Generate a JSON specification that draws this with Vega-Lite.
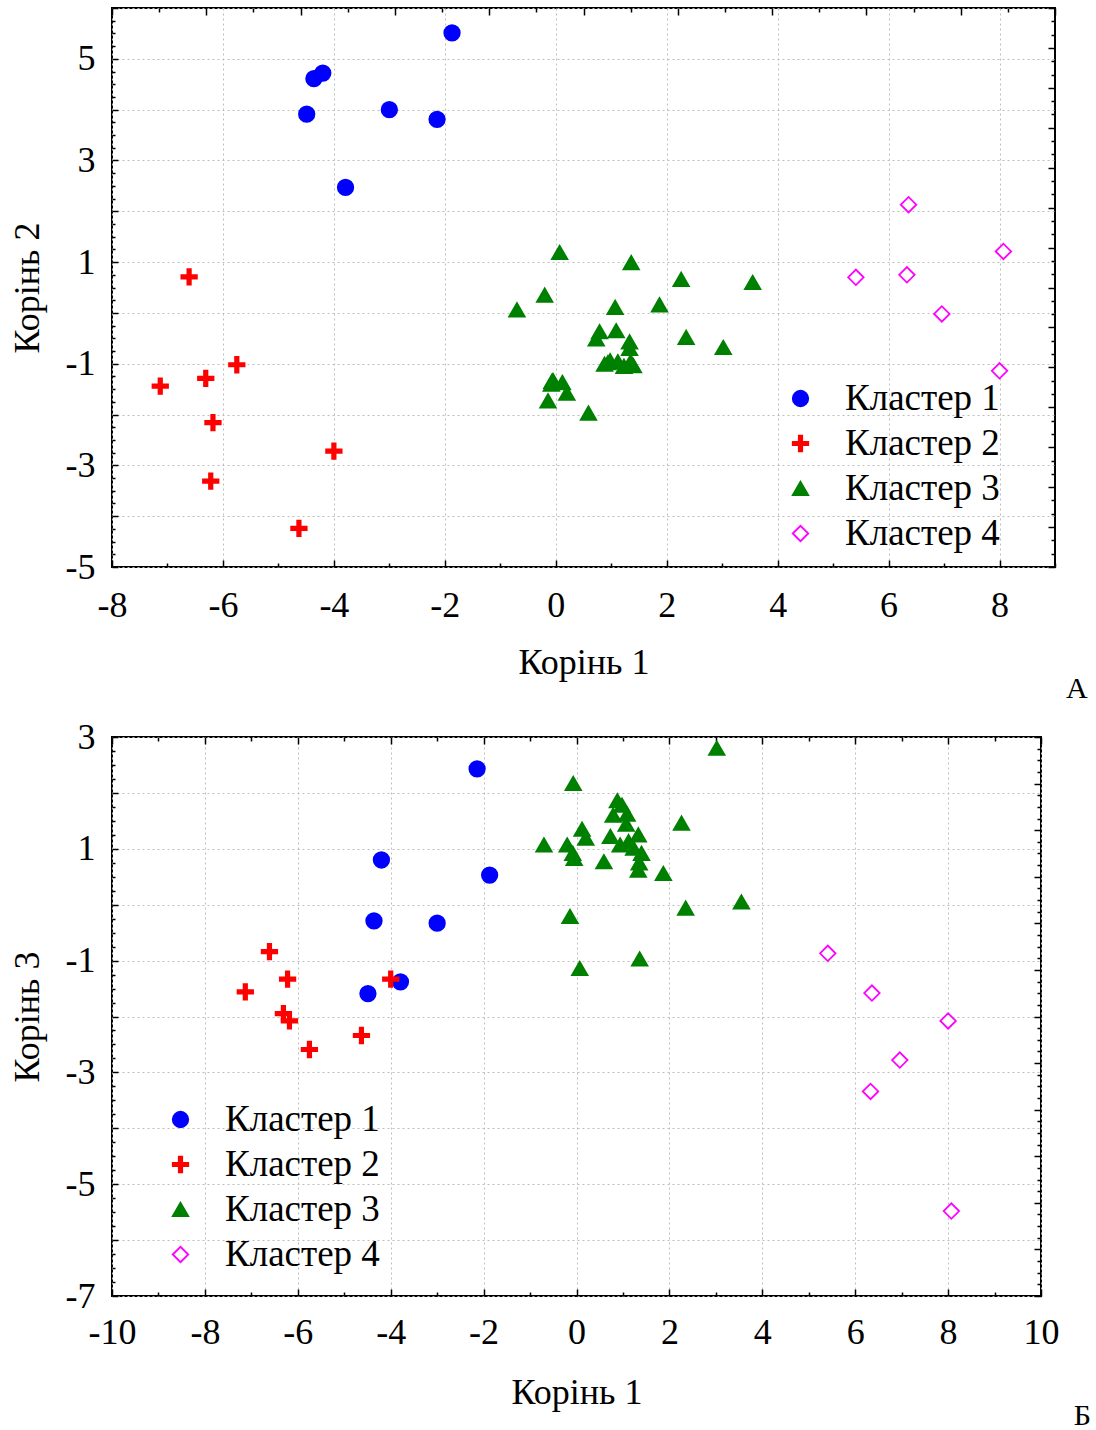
{
  "$schema": "https://vega.github.io/schema/vega-lite/v6.json",
  "padding": {"left": 8, "top": 6, "right": 0, "bottom": 0},
  "background": "white",
  "bounds": "flush",
  "spacing": 170,
  "datasets": {
    "pts": [
      {"cluster": "Кластер 1", "r1": -1.87, "r2": 5.51, "r3": 0.53},
      {"cluster": "Кластер 1", "r1": -2.14, "r2": 3.81, "r3": 2.43},
      {"cluster": "Кластер 1", "r1": -3.0, "r2": 4.0, "r3": -0.33},
      {"cluster": "Кластер 1", "r1": -3.79, "r2": 2.47, "r3": -1.38},
      {"cluster": "Кластер 1", "r1": -4.2, "r2": 4.72, "r3": 0.8},
      {"cluster": "Кластер 1", "r1": -4.36, "r2": 4.61, "r3": -0.29},
      {"cluster": "Кластер 1", "r1": -4.49, "r2": 3.91, "r3": -1.59},
      {"cluster": "Кластер 2", "r1": -6.61, "r2": 0.71, "r3": -0.84},
      {"cluster": "Кластер 2", "r1": -7.13, "r2": -1.44, "r3": -1.56},
      {"cluster": "Кластер 2", "r1": -6.31, "r2": -1.29, "r3": -1.95},
      {"cluster": "Кластер 2", "r1": -5.75, "r2": -1.02, "r3": -2.59},
      {"cluster": "Кластер 2", "r1": -6.18, "r2": -2.16, "r3": -2.08},
      {"cluster": "Кластер 2", "r1": -6.22, "r2": -3.31, "r3": -1.33},
      {"cluster": "Кластер 2", "r1": -4.0, "r2": -2.72, "r3": -1.33},
      {"cluster": "Кластер 2", "r1": -4.63, "r2": -4.24, "r3": -2.34},
      {"cluster": "Кластер 3", "r1": -0.7, "r2": 0.06, "r3": 1.07},
      {"cluster": "Кластер 3", "r1": -0.2, "r2": 0.35, "r3": 1.07},
      {"cluster": "Кластер 3", "r1": -0.14, "r2": -1.73, "r3": -0.21},
      {"cluster": "Кластер 3", "r1": -0.07, "r2": -1.35, "r3": 2.17},
      {"cluster": "Кластер 3", "r1": -0.08, "r2": -1.4, "r3": 0.92},
      {"cluster": "Кластер 3", "r1": -0.05, "r2": -1.33, "r3": 0.83},
      {"cluster": "Кластер 3", "r1": 0.07, "r2": 1.19, "r3": -1.14},
      {"cluster": "Кластер 3", "r1": 0.12, "r2": -1.37, "r3": 1.35},
      {"cluster": "Кластер 3", "r1": 0.2, "r2": -1.58, "r3": 1.19},
      {"cluster": "Кластер 3", "r1": 0.59, "r2": -1.97, "r3": 0.77},
      {"cluster": "Кластер 3", "r1": 0.73, "r2": -0.51, "r3": 1.22},
      {"cluster": "Кластер 3", "r1": 0.79, "r2": -0.37, "r3": 1.6},
      {"cluster": "Кластер 3", "r1": 0.88, "r2": -1.01, "r3": 1.86},
      {"cluster": "Кластер 3", "r1": 0.94, "r2": -0.98, "r3": 1.07},
      {"cluster": "Кластер 3", "r1": 0.98, "r2": -0.94, "r3": 1.78},
      {"cluster": "Кластер 3", "r1": 1.07, "r2": 0.11, "r3": 1.44},
      {"cluster": "Кластер 3", "r1": 1.09, "r2": -0.35, "r3": 1.62},
      {"cluster": "Кластер 3", "r1": 1.12, "r2": -0.96, "r3": 1.13},
      {"cluster": "Кластер 3", "r1": 1.23, "r2": -1.05, "r3": 1.01},
      {"cluster": "Кластер 3", "r1": 1.33, "r2": -0.57, "r3": 1.25},
      {"cluster": "Кластер 3", "r1": 1.33, "r2": -0.7, "r3": 0.62},
      {"cluster": "Кластер 3", "r1": 1.35, "r2": -0.96, "r3": 0.75},
      {"cluster": "Кластер 3", "r1": 1.36, "r2": 0.99, "r3": -0.97},
      {"cluster": "Кластер 3", "r1": 1.4, "r2": -1.04, "r3": 0.92},
      {"cluster": "Кластер 3", "r1": 1.87, "r2": 0.16, "r3": 0.56},
      {"cluster": "Кластер 3", "r1": 2.26, "r2": 0.66, "r3": 1.46},
      {"cluster": "Кластер 3", "r1": 2.35, "r2": -0.48, "r3": -0.06},
      {"cluster": "Кластер 3", "r1": 3.02, "r2": -0.68, "r3": 2.8},
      {"cluster": "Кластер 3", "r1": 3.55, "r2": 0.6, "r3": 0.05},
      {"cluster": "Кластер 4", "r1": 5.41, "r2": 0.7, "r3": -0.87},
      {"cluster": "Кластер 4", "r1": 6.36, "r2": 2.13, "r3": -1.58},
      {"cluster": "Кластер 4", "r1": 6.33, "r2": 0.75, "r3": -3.34},
      {"cluster": "Кластер 4", "r1": 6.96, "r2": -0.02, "r3": -2.78},
      {"cluster": "Кластер 4", "r1": 8.07, "r2": 1.21, "r3": -5.48},
      {"cluster": "Кластер 4", "r1": 8.0, "r2": -1.14, "r3": -2.08}
    ]
  },
  "config": {
    "font": "Liberation Serif",
    "view": {"stroke": "black", "strokeWidth": 2},
    "axis": {
      "domain": false,
      "labelFont": "Liberation Serif",
      "labelColor": "black",
      "titleFont": "Liberation Serif",
      "titleFontSize": 36,
      "titleFontWeight": "normal",
      "titleColor": "black",
      "tickColor": "black",
      "tickWidth": 1.5,
      "gridColor": "#bdbdbd",
      "gridDash": [2, 3],
      "gridWidth": 1,
      "labelFlush": false,
      "labelOverlap": false
    },
    "legend": {
      "labelFont": "Liberation Serif",
      "labelFontSize": 37,
      "labelColor": "black",
      "symbolStrokeWidth": 1.8,
      "symbolSize": 240,
      "rowPadding": 7,
      "labelOffset": 26,
      "padding": 0
    },
    "title": {"font": "Liberation Serif", "fontSize": 30, "fontWeight": "normal", "color": "black"}
  },
  "resolve": {"legend": {"shape": "independent", "fill": "independent", "stroke": "independent"}},
  "vconcat": [
    {
      "width": 943,
      "height": 559,
      "title": {"text": "А", "orient": "bottom", "anchor": "end", "dx": 32, "offset": -6},
      "data": {"name": "pts"},
      "layer": [
        {
          "mark": {"type": "point", "filled": true, "size": 240, "strokeWidth": 1.8, "opacity": 1},
          "encoding": {
            "x": {
              "field": "r1", "type": "quantitative",
              "scale": {"domain": [-8, 9], "nice": false, "zero": false},
              "axis": {
                "orient": "bottom",
                "title": "Корінь 1",
                "values": [-8, -7, -6, -5, -4, -3, -2, -1, 0, 1, 2, 3, 4, 5, 6, 7, 8, 9],
                "labelExpr": "datum.value % 2 == 0 && datum.value <= 8 ? '' + datum.value : ''",
                "labelFontSize": {"condition": {"test": "datum.value % 2 == 0 && datum.value <= 8", "value": 36}, "value": 0},
                "gridOpacity": {"condition": {"test": "datum.value % 2 == 0", "value": 1}, "value": 0},
                "tickSize": {"condition": {"test": "datum.value % 2 == 0", "value": -7}, "value": -4},
                "labelPadding": 28,
                "titlePadding": 22
              }
            },
            "y": {
              "field": "r2", "type": "quantitative",
              "scale": {"domain": [-5, 6], "nice": false, "zero": false},
              "axis": {
                "orient": "left",
                "title": "Корінь 2",
                "values": [-5, -4.75, -4.5, -4.25, -4, -3.75, -3.5, -3.25, -3, -2.75, -2.5, -2.25, -2, -1.75, -1.5, -1.25, -1, -0.75, -0.5, -0.25, 0, 0.25, 0.5, 0.75, 1, 1.25, 1.5, 1.75, 2, 2.25, 2.5, 2.75, 3, 3.25, 3.5, 3.75, 4, 4.25, 4.5, 4.75, 5, 5.25, 5.5, 5.75, 6],
                "labelExpr": "abs(datum.value % 2) == 1 ? '' + datum.value : ''",
                "labelFontSize": {"condition": {"test": "abs(datum.value % 2) == 1", "value": 36}, "value": 0},
                "gridOpacity": {"condition": {"test": "datum.value % 1 == 0", "value": 1}, "value": 0},
                "tickSize": {"condition": {"test": "datum.value % 1 == 0", "value": -6}, "value": -3},
                "labelPadding": 23,
                "titlePadding": 19
              }
            },
            "shape": {
              "field": "cluster", "type": "nominal",
              "scale": {"domain": ["Кластер 1", "Кластер 2", "Кластер 3", "Кластер 4"], "range": ["circle", "M-1,-0.22H-0.22V-1H0.22V-0.22H1V0.22H0.22V1H-0.22V0.22H-1Z", "triangle-up", "diamond"]},
              "legend": {"orient": "none", "legendX": 670, "legendY": 372, "title": null}
            },
            "fill": {
              "field": "cluster", "type": "nominal",
              "scale": {"domain": ["Кластер 1", "Кластер 2", "Кластер 3", "Кластер 4"], "range": ["#0000ff", "#ff0000", "#008000", "#ffffff"]},
              "legend": {"orient": "none", "legendX": 670, "legendY": 372, "title": null}
            },
            "stroke": {
              "field": "cluster", "type": "nominal",
              "scale": {"domain": ["Кластер 1", "Кластер 2", "Кластер 3", "Кластер 4"], "range": ["#0000ff", "#ff0000", "#008000", "#ff00ff"]},
              "legend": {"orient": "none", "legendX": 670, "legendY": 372, "title": null}
            }
          }
        },
        {
          "mark": {"type": "point", "opacity": 0},
          "encoding": {
            "x": {
              "field": "r1", "type": "quantitative",
              "axis": {
                "orient": "top", "title": null, "labels": false, "grid": false,
                "values": [-8, -7.15, -6.3, -5.45, -4.6, -3.75, -2.9, -2.05, -1.2, -0.35, 0.5, 1.35, 2.2, 3.05, 3.9, 4.75, 5.6, 6.45, 7.3, 8.15, 9],
                "tickSize": {"condition": {"test": "round((datum.value + 8) / 0.85) % 2 == 0", "value": -7}, "value": -4}
              }
            },
            "y": {
              "field": "r2", "type": "quantitative",
              "axis": {
                "orient": "right", "title": null, "labels": false, "grid": false,
                "values": [-5, -4.7381, -4.4762, -4.2143, -3.9524, -3.6905, -3.4286, -3.1667, -2.9048, -2.6429, -2.381, -2.119, -1.8571, -1.5952, -1.3333, -1.0714, -0.8095, -0.5476, -0.2857, -0.0238, 0.2381, 0.5, 0.7619, 1.0238, 1.2857, 1.5476, 1.8095, 2.0714, 2.3333, 2.5952, 2.8571, 3.119, 3.381, 3.6429, 3.9048, 4.1667, 4.4286, 4.6905, 4.9524, 5.2143, 5.4762, 5.7381, 6],
                "tickSize": {"condition": {"test": "round((datum.value + 5) * 42 / 11) % 3 == 0", "value": -7}, "value": -4}
              }
            }
          }
        }
      ],
      "resolve": {"axis": {"x": "independent", "y": "independent"}}
    },
    {
      "width": 929,
      "height": 559,
      "title": {"text": "Б", "orient": "bottom", "anchor": "end", "dx": 32, "offset": -9},
      "data": {"name": "pts"},
      "layer": [
        {
          "mark": {"type": "point", "filled": true, "size": 240, "strokeWidth": 1.8, "opacity": 1},
          "encoding": {
            "x": {
              "field": "r1", "type": "quantitative",
              "scale": {"domain": [-10, 10], "nice": false, "zero": false},
              "axis": {
                "orient": "bottom",
                "title": "Корінь 1",
                "values": [-10, -9, -8, -7, -6, -5, -4, -3, -2, -1, 0, 1, 2, 3, 4, 5, 6, 7, 8, 9, 10],
                "labelExpr": "datum.value % 2 == 0 ? '' + datum.value : ''",
                "labelFontSize": {"condition": {"test": "datum.value % 2 == 0", "value": 36}, "value": 0},
                "gridOpacity": {"condition": {"test": "datum.value % 2 == 0", "value": 1}, "value": 0},
                "tickSize": {"condition": {"test": "datum.value % 2 == 0", "value": -7}, "value": -4},
                "labelPadding": 26,
                "titlePadding": 25
              }
            },
            "y": {
              "field": "r3", "type": "quantitative",
              "scale": {"domain": [-7, 3], "nice": false, "zero": false},
              "axis": {
                "orient": "left",
                "title": "Корінь 3",
                "values": [-7, -6.75, -6.5, -6.25, -6, -5.75, -5.5, -5.25, -5, -4.75, -4.5, -4.25, -4, -3.75, -3.5, -3.25, -3, -2.75, -2.5, -2.25, -2, -1.75, -1.5, -1.25, -1, -0.75, -0.5, -0.25, 0, 0.25, 0.5, 0.75, 1, 1.25, 1.5, 1.75, 2, 2.25, 2.5, 2.75, 3],
                "labelExpr": "abs(datum.value % 2) == 1 ? '' + datum.value : ''",
                "labelFontSize": {"condition": {"test": "abs(datum.value % 2) == 1", "value": 36}, "value": 0},
                "gridOpacity": {"condition": {"test": "datum.value % 1 == 0", "value": 1}, "value": 0},
                "tickSize": {"condition": {"test": "datum.value % 1 == 0", "value": -6}, "value": -3},
                "labelPadding": 23,
                "titlePadding": 19
              }
            },
            "shape": {
              "field": "cluster", "type": "nominal",
              "scale": {"domain": ["Кластер 1", "Кластер 2", "Кластер 3", "Кластер 4"], "range": ["circle", "M-1,-0.22H-0.22V-1H0.22V-0.22H1V0.22H0.22V1H-0.22V0.22H-1Z", "triangle-up", "diamond"]},
              "legend": {"orient": "none", "legendX": 50, "legendY": 364, "title": null}
            },
            "fill": {
              "field": "cluster", "type": "nominal",
              "scale": {"domain": ["Кластер 1", "Кластер 2", "Кластер 3", "Кластер 4"], "range": ["#0000ff", "#ff0000", "#008000", "#ffffff"]},
              "legend": {"orient": "none", "legendX": 50, "legendY": 364, "title": null}
            },
            "stroke": {
              "field": "cluster", "type": "nominal",
              "scale": {"domain": ["Кластер 1", "Кластер 2", "Кластер 3", "Кластер 4"], "range": ["#0000ff", "#ff0000", "#008000", "#ff00ff"]},
              "legend": {"orient": "none", "legendX": 50, "legendY": 364, "title": null}
            }
          }
        },
        {
          "mark": {"type": "point", "opacity": 0},
          "encoding": {
            "x": {
              "field": "r1", "type": "quantitative",
              "axis": {
                "orient": "top", "title": null, "labels": false, "grid": false,
                "values": [-10, -9, -8, -7, -6, -5, -4, -3, -2, -1, 0, 1, 2, 3, 4, 5, 6, 7, 8, 9, 10],
                "tickSize": {"condition": {"test": "datum.value % 2 == 0", "value": -7}, "value": -4}
              }
            },
            "y": {
              "field": "r3", "type": "quantitative",
              "axis": {
                "orient": "right", "title": null, "labels": false, "grid": false,
                "values": [3, 2.7917, 2.5833, 2.375, 2.1667, 1.9583, 1.75, 1.5417, 1.3333, 1.125, 0.9167, 0.7083, 0.5, 0.2917, 0.0833, -0.125, -0.3333, -0.5417, -0.75, -0.9583, -1.1667, -1.375, -1.5833, -1.7917, -2, -2.2083, -2.4167, -2.625, -2.8333, -3.0417, -3.25, -3.4583, -3.6667, -3.875, -4.0833, -4.2917, -4.5, -4.7083, -4.9167, -5.125, -5.3333, -5.5417, -5.75, -5.9583, -6.1667, -6.375, -6.5833, -6.7917, -7],
                "tickSize": {"condition": {"test": "round((3 - datum.value) * 4.8) % 4 == 0", "value": -7}, "value": -4}
              }
            }
          }
        }
      ],
      "resolve": {"axis": {"x": "independent", "y": "independent"}}
    }
  ]
}
